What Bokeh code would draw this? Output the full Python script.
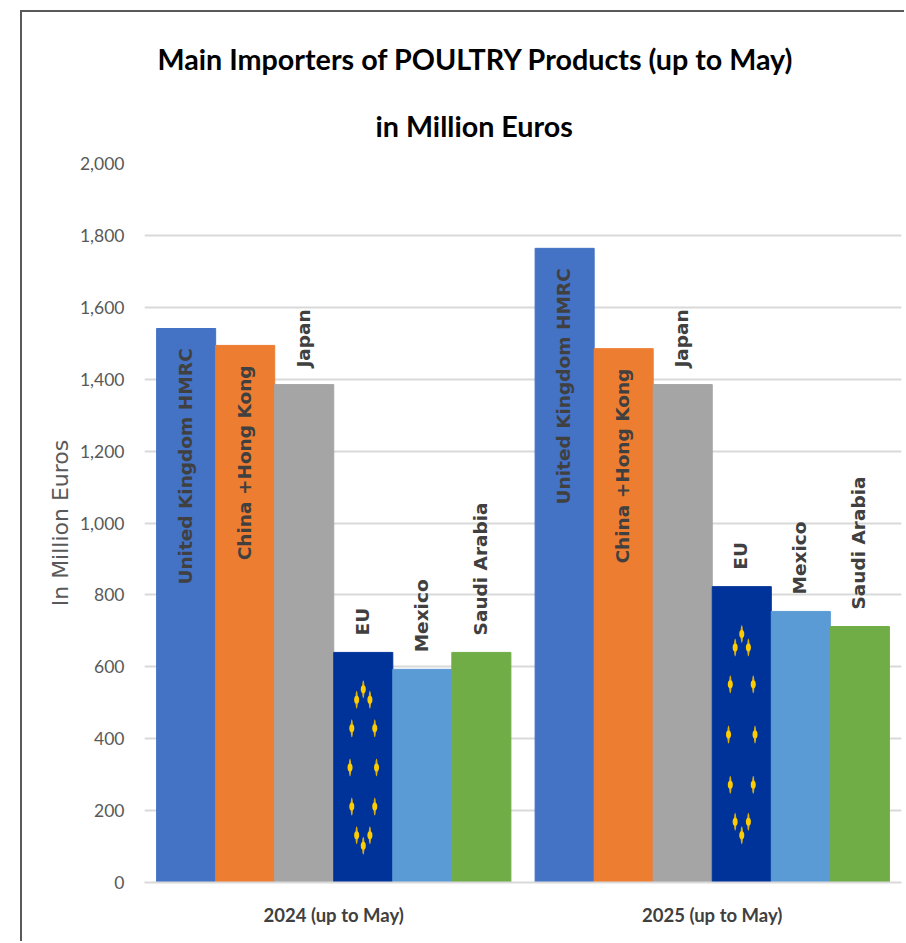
import numpy as np
from bokeh.embed import file_html
from bokeh.resources import INLINE
from bokeh.plotting import figure
from bokeh.models import ColumnDataSource, FactorRange, Range1d, Title, FixedTicker, NumeralTickFormatter
from bokeh.transform import dodge
from bokeh.core.properties import value

years = ["2024 (up to May)", "2025 (up to May)"]
importers = ["United Kingdom HMRC", "China +Hong Kong", "Japan", "EU", "Mexico", "Saudi Arabia"]
v2024 = [1541, 1494, 1385, 640, 593, 640]
v2025 = [1764, 1485, 1385, 823, 754, 712]
colors = ["#4472c4", "#ed7d31", "#a5a5a5", "#003399", "#5b9bd5", "#70ad47"]
y_ticks = [0, 200, 400, 600, 800, 1000, 1200, 1400, 1600, 1800, 2000]
title_lines = ["Main Importers of POULTRY Products (up to May)", "in Million Euros"]
y_title = "In Million Euros"

BAR = 0.156
p = figure(width=884, height=931, output_backend="svg", toolbar_location=None,
           x_range=FactorRange(factors=years, range_padding=0, factor_padding=0),
           y_range=Range1d(0, 2000), tools="",
           min_border_left=122, min_border_right=5, min_border_top=151, min_border_bottom=61)
p.margin = (10, 0, 0, 20)
p.styles = {"border-left": "2px solid #595959", "border-top": "2px solid #595959"}
p.outline_line_color = None
p.xgrid.visible = False
p.ygrid.grid_line_color = "#d9d9d9"
p.ygrid.grid_line_width = 2

ax = p.yaxis[0]
ax.ticker = FixedTicker(ticks=y_ticks)
ax.formatter = NumeralTickFormatter(format="0,0")
ax.axis_line_color = None
ax.major_tick_line_color = None
ax.minor_tick_line_color = None
ax.major_tick_in = 0
ax.major_tick_out = 0
ax.major_label_standoff = 20
ax.major_label_text_font = "Lato"
ax.major_label_text_font_size = "17.5px"
ax.major_label_text_color = "#595959"
ax.axis_label = y_title
ax.axis_label_text_font = "DejaVu Sans"
ax.axis_label_text_font_style = "normal"
ax.axis_label_text_font_size = "22px"
ax.axis_label_text_color = "#595959"
ax.axis_label_standoff = 4

xa = p.xaxis[0]
xa.axis_line_color = "#d9d9d9"
xa.axis_line_width = 2
xa.major_tick_line_color = None
xa.minor_tick_line_color = None
xa.major_label_standoff = 15
xa.major_label_text_font = "Lato"
xa.major_label_text_font_style = "bold"
xa.major_label_text_font_size = "18.5px"
xa.major_label_text_color = "#404040"

for i, (name, color) in enumerate(zip(importers, colors)):
    off = (i - 2.5) * BAR
    src = ColumnDataSource(dict(year=years, v=[v2024[i], v2025[i]], label=[name, name]))
    x = dodge("year", off, range=p.x_range)
    p.vbar(x=x, top="v", width=BAR, bottom=0, source=src, fill_color=color, line_color=color, line_width=1)
    inside = i < 2
    p.text(x=x, y="v", text="label", source=src, angle=np.pi / 2, angle_units="rad",
           text_align="right" if inside else "left", text_baseline="middle",
           x_offset=-1, y_offset=20 if inside else -17,
           text_font=value("DejaVu Sans"), text_font_style="bold",
           text_font_size=value("18.5px"), text_color="#404040")

# twelve flag stars on the EU bars (stretched like the reference picture)
eu_off = (3 - 2.5) * BAR
theta = np.arange(12) * np.pi / 6
for yr, v in zip(years, (v2024[3], v2025[3])):
    ys = v * 0.5 + 0.34 * v * np.sin(theta)
    for c, yy in zip(np.cos(theta), ys):
        s = ColumnDataSource(dict(x=[yr], y=[yy]))
        xx = dodge("x", eu_off + 0.035 * c, range=p.x_range)
        p.ellipse(x=xx, y="y", width=2.5, height=18, width_units="screen", height_units="screen",
                  source=s, fill_color="#d9ae12", line_color=None)
        p.ellipse(x=xx, y="y", width=5, height=8, width_units="screen", height_units="screen",
                  source=s, fill_color="#ffcc00", line_color=None)

# two title lines, stacked above the frame
for line, offs, stand in zip(reversed(title_lines), (231, 13), (42, 20)):
    p.add_layout(Title(text=line, align="left", offset=offs, standoff=stand,
                       text_line_height=0.6,
                       text_font="Lato", text_font_style="bold",
                       text_font_size="28.7px", text_color="#000000"), "above")

open("out.html", "w").write(file_html(p, INLINE))
